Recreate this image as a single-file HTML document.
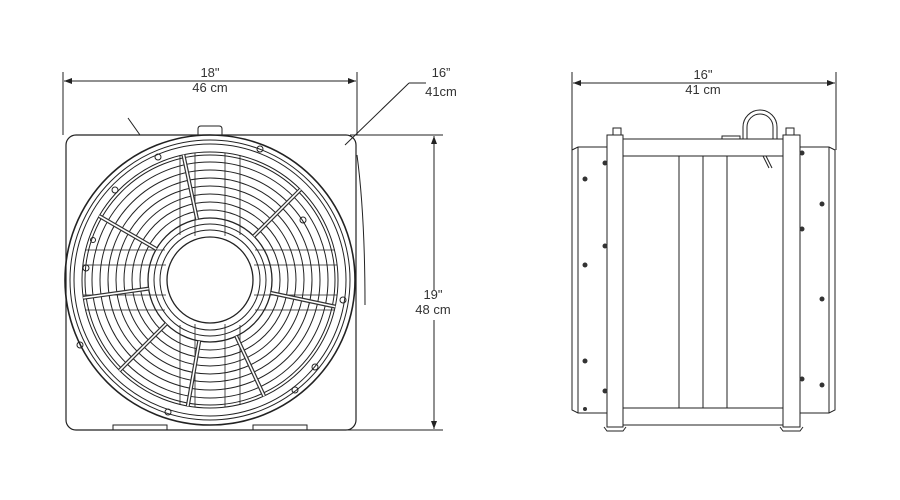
<!DOCTYPE html>
<html><head><meta charset="utf-8"><style>
html,body{margin:0;padding:0;background:#fff;width:900px;height:500px;overflow:hidden}
svg{display:block}
text{font-family:"Liberation Sans",sans-serif;font-size:13px;fill:#333;text-anchor:middle}
</style></head><body>
<svg width="900" height="500" viewBox="0 0 900 500" xmlns="http://www.w3.org/2000/svg">
<defs>
<marker id="a" markerWidth="8" markerHeight="6" refX="8" refY="3" orient="auto" markerUnits="userSpaceOnUse"><path d="M0,0 L8,3 L0,6z" fill="#222"/></marker>
</defs>
<g stroke="#222" fill="none" stroke-width="1">
<line x1="63" y1="72" x2="63" y2="135"/><line x1="357" y1="72" x2="357" y2="135"/>
<line x1="210" y1="81" x2="64" y2="81" marker-end="url(#a)"/><line x1="210" y1="81" x2="356" y2="81" marker-end="url(#a)"/>
<line x1="350" y1="135" x2="443" y2="135"/><line x1="340" y1="430" x2="443" y2="430"/>
<line x1="434" y1="290" x2="434" y2="136" marker-end="url(#a)"/><line x1="434" y1="320" x2="434" y2="429" marker-end="url(#a)"/>
<line x1="345" y1="145" x2="409" y2="83"/><line x1="409" y1="83" x2="426" y2="83"/>
<rect x="66" y="135" width="290" height="295" rx="10" stroke-width="1.2"/>
<path d="M198,135 v-6 q0,-3 3,-3 h18 q3,0 3,3 v6"/>
<path d="M128,118 L140,135"/><path d="M113,430 v-5 h54 v5 M253,430 v-5 h54 v5"/>
<path d="M357,155 q8,60 8,150" />
<g transform="translate(210,280)">
<circle r="145" stroke-width="1.6"/><circle r="140"/><circle r="136"/>
<circle r="128"/><circle r="125"/><circle r="118"/><circle r="110"/><circle r="102"/><circle r="94"/><circle r="86"/><circle r="78"/><circle r="70"/><circle r="62" stroke-width="1.3"/><circle r="56"/><circle r="50"/><circle r="43" stroke-width="1.3"/>
<g stroke-width="0.8">
<path d="M-30,-125V-45M30,-125V-45M-30,125V45M30,125V45M-125,-30H-45M-125,30H-45M125,-30H45M125,30H45M-15,-127V-44M15,-127V-44M-15,127V44M15,127V44M-127,-15H-44M-127,15H-44M127,-15H44M127,15H44"/>
</g>
<g stroke-width="4" stroke="#333">
<line x1="0" y1="-62" x2="0" y2="-128" transform="rotate(-12)"/>
<line x1="0" y1="-62" x2="0" y2="-128" transform="rotate(45)"/>
<line x1="0" y1="-62" x2="0" y2="-128" transform="rotate(102)"/>
<line x1="0" y1="-62" x2="0" y2="-128" transform="rotate(155)"/>
<line x1="0" y1="-62" x2="0" y2="-128" transform="rotate(190)"/>
<line x1="0" y1="-62" x2="0" y2="-128" transform="rotate(225)"/>
<line x1="0" y1="-62" x2="0" y2="-128" transform="rotate(262)"/>
<line x1="0" y1="-62" x2="0" y2="-128" transform="rotate(300)"/>
</g>
<g stroke-width="1.6" stroke="#fff">
<line x1="0" y1="-62" x2="0" y2="-128" transform="rotate(-12)"/>
<line x1="0" y1="-62" x2="0" y2="-128" transform="rotate(45)"/>
<line x1="0" y1="-62" x2="0" y2="-128" transform="rotate(102)"/>
<line x1="0" y1="-62" x2="0" y2="-128" transform="rotate(155)"/>
<line x1="0" y1="-62" x2="0" y2="-128" transform="rotate(190)"/>
<line x1="0" y1="-62" x2="0" y2="-128" transform="rotate(225)"/>
<line x1="0" y1="-62" x2="0" y2="-128" transform="rotate(262)"/>
<line x1="0" y1="-62" x2="0" y2="-128" transform="rotate(300)"/>
</g>
<g stroke-width="1"><circle cx="-52" cy="-123" r="3"/><circle cx="93" cy="-60" r="3"/><circle cx="-130" cy="65" r="3"/><circle cx="133" cy="20" r="3"/><circle cx="-42" cy="132" r="3"/><circle cx="105" cy="87" r="3"/><circle cx="-124" cy="-12" r="3"/><circle cx="50" cy="-131" r="3"/><circle cx="-95" cy="-90" r="3"/><circle cx="85" cy="110" r="3"/><circle cx="-117" cy="-40" r="2.5"/></g>
</g>
<line x1="572" y1="72" x2="572" y2="150"/><line x1="836" y1="72" x2="836" y2="150"/>
<line x1="704" y1="83" x2="573" y2="83" marker-end="url(#a)"/><line x1="704" y1="83" x2="835" y2="83" marker-end="url(#a)"/>
<path d="M572,150 l6,-3 h29 v266 h-29 l-6,-3z"/><line x1="578" y1="147" x2="578" y2="413"/>
<path d="M835,150 l-6,-3 h-29 v266 h29 l6,-3z"/><line x1="829" y1="147" x2="829" y2="413"/>
<rect x="607" y="135" width="16" height="292"/><rect x="783" y="135" width="17" height="292"/>
<rect x="613" y="128" width="8" height="7"/><rect x="786" y="128" width="8" height="7"/>
<rect x="623" y="139" width="160" height="17"/><rect x="623" y="408" width="160" height="17"/>
<line x1="679" y1="156" x2="679" y2="408"/><line x1="703" y1="156" x2="703" y2="408"/><line x1="727" y1="156" x2="727" y2="408"/>
<rect x="722" y="136" width="18" height="3"/>
<path d="M743,139 v-12 a17,17 0 0 1 34,0 v12 M747,139 v-12 a13,13 0 0 1 26,0 v12"/>
<path d="M763,156 l6,12 M766,156 l6,12"/>
<path d="M604,427 l3,4 h16 l3,-4 M780,427 l3,4 h17 l3,-4"/>
</g>
<g fill="#333">
<circle cx="585" cy="179" r="2.5"/><circle cx="585" cy="265" r="2.5"/><circle cx="585" cy="361" r="2.5"/><circle cx="585" cy="409" r="2"/>
<circle cx="605" cy="163" r="2.5"/><circle cx="605" cy="246" r="2.5"/><circle cx="605" cy="391" r="2.5"/>
<circle cx="822" cy="204" r="2.5"/><circle cx="822" cy="299" r="2.5"/><circle cx="822" cy="385" r="2.5"/>
<circle cx="802" cy="153" r="2.5"/><circle cx="802" cy="229" r="2.5"/><circle cx="802" cy="379" r="2.5"/>
</g>
<text x="210" y="77">18"</text><text x="210" y="92">46 cm</text>
<text x="441" y="77">16”</text><text x="441" y="96">41cm</text>
<text x="433" y="299">19"</text><text x="433" y="314">48 cm</text>
<text x="703" y="79">16"</text><text x="703" y="94">41 cm</text>
</svg>
</body></html>
